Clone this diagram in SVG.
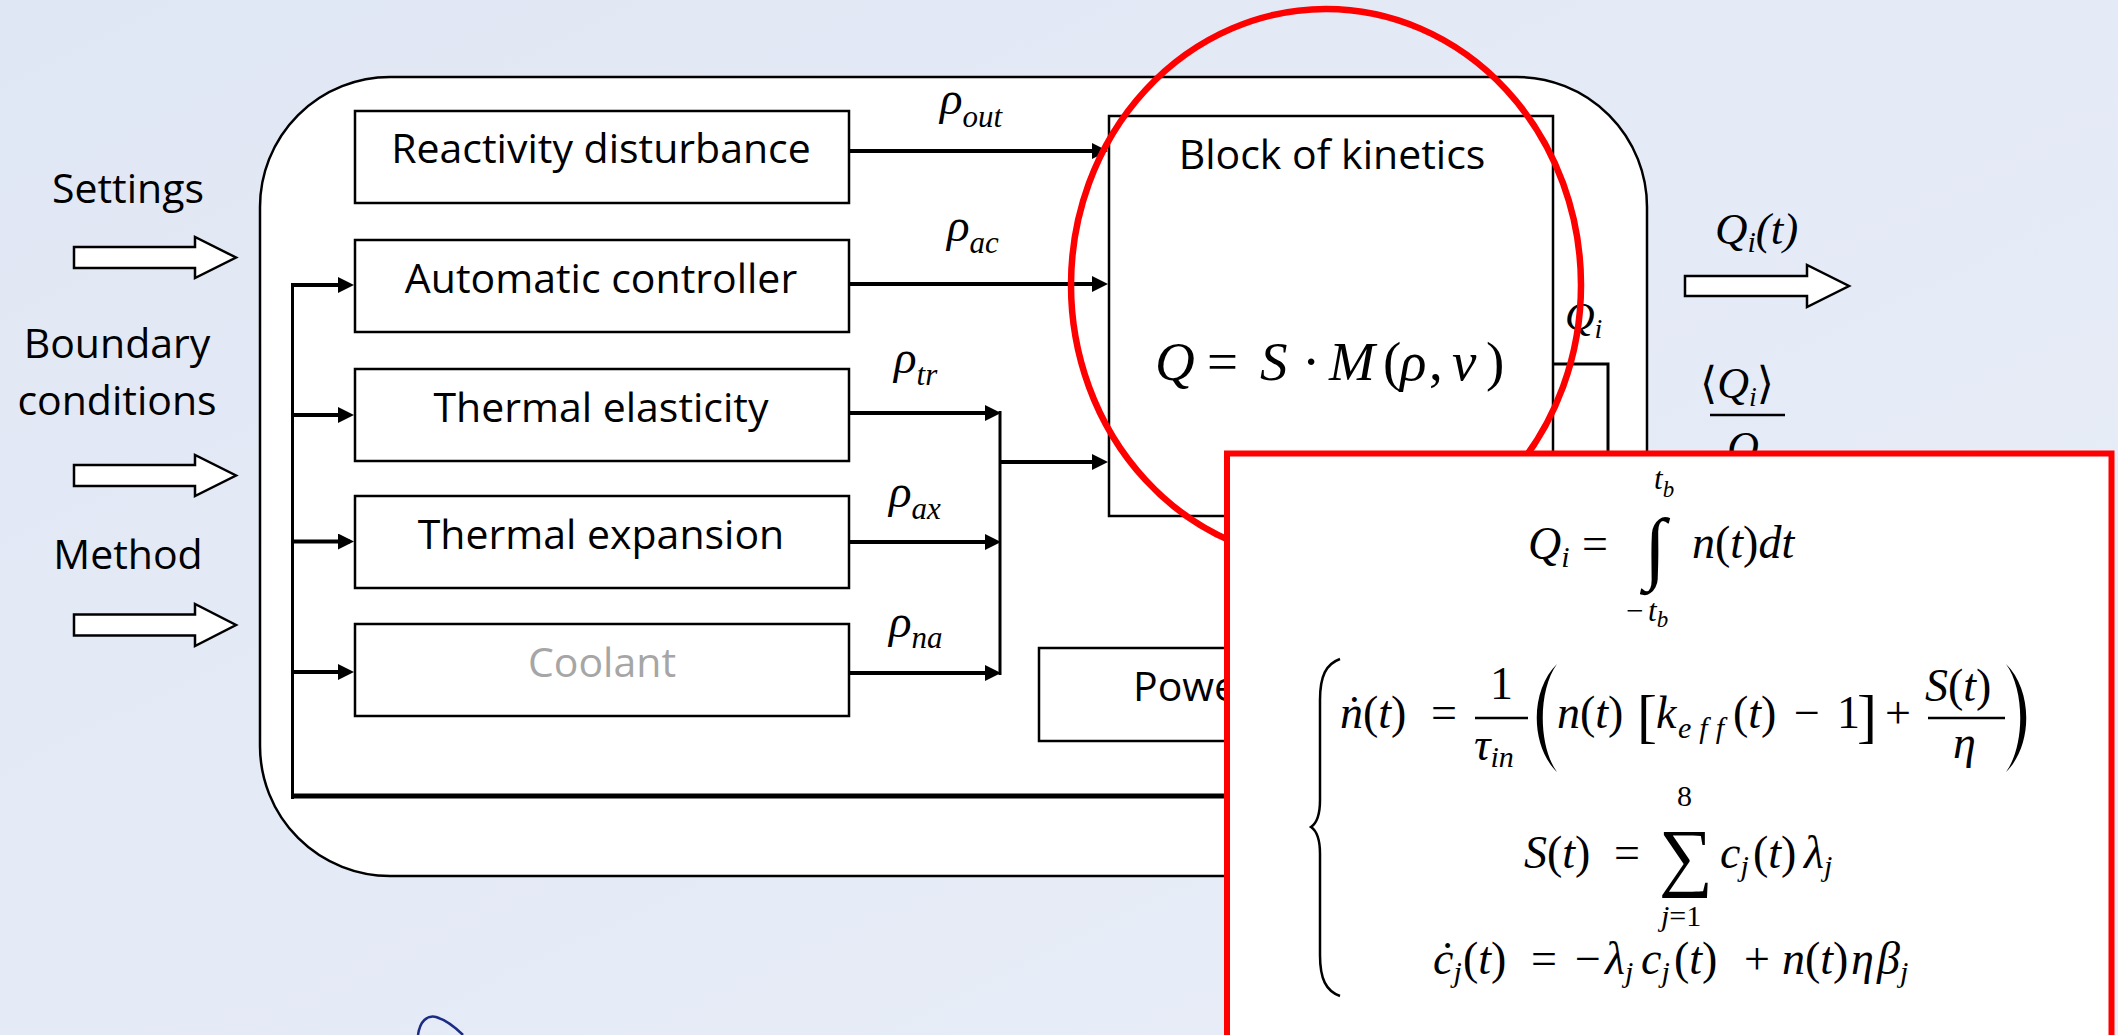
<svg xmlns="http://www.w3.org/2000/svg" width="2118" height="1035" viewBox="0 0 2118 1035">
<defs>
<linearGradient id="bg" x1="0" y1="0" x2="1" y2="1">
<stop offset="0" stop-color="#E0E7F4"/>
<stop offset="1" stop-color="#E9EEF8"/>
</linearGradient>
<marker id="ah" markerUnits="userSpaceOnUse" markerWidth="16" markerHeight="16" refX="12" refY="8" orient="auto">
<path d="M0,0 L16,8 L0,16 z" fill="#000"/>
</marker>
<style>
.box{fill:#fff;stroke:#000;stroke-width:2.5}
.hollow{fill:#fff;stroke:#000;stroke-width:2.5}
.lbl{font-family:'Open Sans','Liberation Sans',sans-serif;font-size:41px;fill:#000;text-anchor:middle}
.conn{stroke:#000;stroke-width:4;fill:none}
.m{font-family:'Liberation Serif','DejaVu Serif',serif;font-style:italic;font-size:42px;fill:#000}
.p{font-size:46px}
.u{font-style:normal}
.sub{font-size:28px}
.ps{font-size:30px}
.bar{stroke:#000;stroke-width:2.5}
</style>
</defs>
<rect x="0" y="0" width="2118" height="1035" fill="url(#bg)"/>
<path d="M418 1035 C420 1021 427 1015 436 1017 C446 1020 455 1027 463 1035" fill="none" stroke="#1C2B84" stroke-width="2.5"/>

<g id="inputs">
<g id="settings">
<text class="lbl" x="128" y="203">Settings</text>
<polygon class="hollow" points="74,247 195,247 195,237 236,257.5 195,278 195,268 74,268"/>
</g>
<g id="boundary">
<text class="lbl" x="117" y="358">Boundary</text>
<text class="lbl" x="117" y="415">conditions</text>
<polygon class="hollow" points="74,465 195,465 195,455 236,475.5 195,496 195,486 74,486"/>
</g>
<g id="method">
<text class="lbl" x="128" y="569">Method</text>
<polygon class="hollow" points="74,614.5 195,614.5 195,604 236,625 195,646 195,635.5 74,635.5"/>
</g>
</g>

<g id="container">
<rect x="260" y="77" width="1387" height="799" rx="130" ry="130" fill="#fff" stroke="#000" stroke-width="2.5"/>
</g>

<g id="reactivity"><rect class="box" x="355" y="111" width="494" height="92"/><text class="lbl" x="601" y="163">Reactivity disturbance</text></g>
<g id="controller"><rect class="box" x="355" y="240" width="494" height="92"/><text class="lbl" x="601" y="293">Automatic controller</text></g>
<g id="elasticity"><rect class="box" x="355" y="369" width="494" height="92"/><text class="lbl" x="601" y="422">Thermal elasticity</text></g>
<g id="expansion"><rect class="box" x="355" y="496" width="494" height="92"/><text class="lbl" x="601" y="549">Thermal expansion</text></g>
<g id="coolant"><rect class="box" x="355" y="624" width="494" height="92"/><text class="lbl" x="602" y="677" style="fill:#A6A6A6">Coolant</text></g>
<g id="power"><rect class="box" x="1039" y="648" width="400" height="93"/><text class="lbl" x="1133" y="701" style="text-anchor:start">Power</text></g>

<g id="kinetics">
<rect class="box" x="1109" y="116" width="444" height="400"/>
<text class="lbl" x="1332" y="169">Block of kinetics</text>
<text class="m" y="380" style="font-size:55px"><tspan x="1155">Q</tspan><tspan class="u" x="1207">=</tspan><tspan x="1260">S</tspan><tspan class="u" x="1302">·</tspan><tspan x="1329">M</tspan><tspan class="u" x="1383">(</tspan><tspan x="1400">ρ</tspan><tspan class="u" x="1429">,</tspan><tspan x="1452">v</tspan><tspan class="u" x="1486">)</tspan></text>
</g>

<g id="connectors">
<line class="conn" x1="849" y1="151" x2="1104" y2="151" marker-end="url(#ah)"/>
<line class="conn" x1="849" y1="284" x2="1104" y2="284" marker-end="url(#ah)"/>
<line class="conn" x1="1000" y1="462" x2="1104" y2="462" marker-end="url(#ah)"/>
<line class="conn" x1="849" y1="413" x2="997" y2="413" marker-end="url(#ah)"/>
<line class="conn" x1="849" y1="542" x2="997" y2="542" marker-end="url(#ah)"/>
<line class="conn" x1="849" y1="673" x2="997" y2="673" marker-end="url(#ah)"/>
<line x1="1000" y1="411" x2="1000" y2="675" stroke="#000" stroke-width="3"/>
<line x1="292.5" y1="283" x2="292.5" y2="799" stroke="#000" stroke-width="3"/>
<line x1="291" y1="796" x2="1240" y2="796" stroke="#000" stroke-width="5"/>
<line class="conn" x1="292" y1="285" x2="350" y2="285" marker-end="url(#ah)"/>
<line class="conn" x1="292" y1="415" x2="350" y2="415" marker-end="url(#ah)"/>
<line class="conn" x1="292" y1="541.5" x2="350" y2="541.5" marker-end="url(#ah)"/>
<line class="conn" x1="292" y1="672" x2="350" y2="672" marker-end="url(#ah)"/>
<polyline points="1553,364 1608,364 1608,470" fill="none" stroke="#000" stroke-width="3"/>
</g>

<g id="labels">
<text class="m" x="940" y="114" style="font-size:47px">ρ<tspan style="font-size:31px" y="127">out</tspan></text>
<text class="m" x="947" y="241" style="font-size:47px">ρ<tspan style="font-size:31px" y="253">ac</tspan></text>
<text class="m" x="894" y="373" style="font-size:47px">ρ<tspan style="font-size:31px" y="385">tr</tspan></text>
<text class="m" x="889" y="507" style="font-size:47px">ρ<tspan style="font-size:31px" y="519">ax</tspan></text>
<text class="m" x="889" y="637" style="font-size:47px">ρ<tspan style="font-size:31px" y="648">na</tspan></text>
<text class="m" x="1565" y="330" style="font-size:41px">Q<tspan class="sub" y="338">i</tspan></text>
</g>

<g id="output">
<text class="m" x="1715" y="244" style="font-size:45px">Q<tspan style="font-size:30px" y="252">i</tspan><tspan y="244">(t)</tspan></text>
<polygon class="hollow" points="1685,276 1807,276 1807,265 1849,286 1807,307 1807,296 1685,296"/>
<text class="m" x="1700" y="398" style="font-size:44px"><tspan class="u">⟨</tspan>Q<tspan class="sub" y="406">i</tspan><tspan class="u" y="398">⟩</tspan></text>
<line class="bar" x1="1710" y1="415" x2="1785" y2="415"/>
<text class="m" x="1727" y="462" style="font-size:44px">Q<tspan class="sub u" y="470">0</tspan></text>
</g>

<ellipse id="highlight" cx="1326" cy="285" rx="255" ry="276" fill="none" stroke="#FF0000" stroke-width="6.5"/>

<g id="formula-panel">
<rect x="1227" y="453.5" width="884.5" height="600" fill="#fff" stroke="#FF0000" stroke-width="6"/>
<!-- line 1 -->
<text class="m p" y="559"><tspan x="1528">Q</tspan><tspan class="ps" y="567">i</tspan><tspan class="u" x="1582" y="559">=</tspan></text>
<text class="m u" x="1644" y="574" style="font-size:80px">∫</text>
<text class="m p" y="558"><tspan x="1692">n</tspan><tspan class="u">(</tspan>t<tspan class="u">)</tspan>dt</text>
<text class="m" x="1654" y="489" style="font-size:31px">t<tspan style="font-size:23px" y="497">b</tspan></text>
<text class="m" y="621" style="font-size:31px"><tspan class="u" x="1626">−</tspan><tspan x="1648">t</tspan><tspan style="font-size:23px" y="627">b</tspan></text>
<!-- brace -->
<path d="M1340 659 C1326 664 1320 676 1320 700 L1320 800 C1320 815 1317 823 1311 827 C1317 831 1320 839 1320 854 L1320 955 C1320 979 1326 991 1340 996" fill="none" stroke="#000" stroke-width="2.5"/>
<!-- line 2 -->
<text class="m p" y="728"><tspan x="1340">ṅ</tspan><tspan class="u">(</tspan>t<tspan class="u">)</tspan><tspan class="u" x="1431">=</tspan></text>
<text class="m u p" x="1490" y="699">1</text>
<line class="bar" x1="1475" y1="718" x2="1528" y2="718"/>
<text class="m p" x="1474" y="760">τ<tspan class="ps" y="767">in</tspan></text>
<path d="M1557 664 C1530 690 1530 746 1557 772 C1538 746 1538 690 1557 664 Z"/>
<text class="m p" y="728"><tspan x="1557">n</tspan><tspan class="u">(</tspan>t<tspan class="u">)</tspan></text>
<text class="m u" x="1637" y="736" style="font-size:60px">[</text>
<text class="m p" y="728"><tspan x="1656">k</tspan><tspan class="ps" x="1678" y="738" textLength="46" lengthAdjust="spacing">eff</tspan><tspan class="u" x="1733" y="728">(</tspan>t<tspan class="u">)</tspan><tspan class="u" x="1794">−</tspan><tspan class="u" x="1837">1</tspan></text>
<text class="m u" x="1857" y="736" style="font-size:60px">]</text>
<text class="m u p" x="1885" y="728">+</text>
<text class="m p" y="701"><tspan x="1925">S</tspan><tspan class="u">(</tspan>t<tspan class="u">)</tspan></text>
<line class="bar" x1="1928" y1="718" x2="2005" y2="718"/>
<text class="m p" x="1953" y="758">η</text>
<path d="M2006 664 C2033 690 2033 746 2006 772 C2025 746 2025 690 2006 664 Z"/>
<!-- line 3 -->
<text class="m p" y="868"><tspan x="1524">S</tspan><tspan class="u">(</tspan>t<tspan class="u">)</tspan><tspan class="u" x="1614">=</tspan></text>
<text class="m u" x="1677" y="806" style="font-size:30px">8</text>
<text class="m u" x="1659" y="882" style="font-size:76px">∑</text>
<text class="m p" y="868"><tspan x="1720">c</tspan><tspan class="ps" y="876">j</tspan><tspan class="u" x="1753" y="868">(</tspan>t<tspan class="u">)</tspan><tspan x="1804">λ</tspan><tspan class="ps" y="876">j</tspan></text>
<text class="m" x="1661" y="926" style="font-size:30px">j<tspan class="u">=1</tspan></text>
<!-- line 4 -->
<text class="m p" y="974"><tspan x="1433">ċ</tspan><tspan class="ps" y="982">j</tspan><tspan class="u" x="1463" y="974">(</tspan>t<tspan class="u">)</tspan><tspan class="u" x="1531">=</tspan><tspan class="u" x="1575">−</tspan><tspan x="1605">λ</tspan><tspan class="ps" y="982">j</tspan><tspan x="1641" y="974">c</tspan><tspan class="ps" y="982">j</tspan><tspan class="u" x="1674" y="974">(</tspan>t<tspan class="u">)</tspan><tspan class="u" x="1744">+</tspan><tspan x="1782">n</tspan><tspan class="u">(</tspan>t<tspan class="u">)</tspan><tspan x="1851">η</tspan><tspan x="1877">β</tspan><tspan class="ps" y="982">j</tspan></text>
</g>
</svg>
